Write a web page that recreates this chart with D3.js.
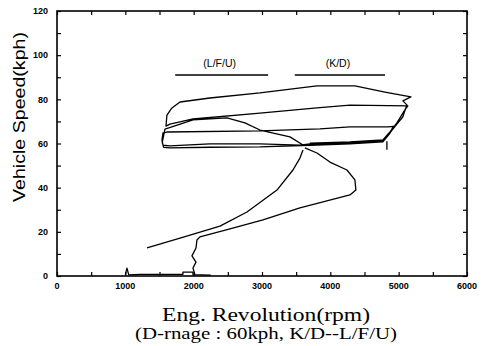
<!DOCTYPE html>
<html>
  <head>
    <meta charset="UTF-8" />
    <title>Vehicle Speed vs Eng. Revolution</title>
    <style>
      body {
        margin: 0;
        background: #ffffff;
      }
      .tick-label {
        font-family: "Liberation Sans", Arial, sans-serif;
        font-size: 9px;
        font-weight: bold;
        fill: #000;
      }
      .trace {
        fill: none;
        stroke: #000;
        stroke-width: 1.3;
        stroke-linejoin: round;
      }
    </style>
  </head>
  <body>
    <div id="chart"></div>
    <script src="https://d3js.org/d3.v7.min.js"></script>
    <script>
      // tick labels
      const xTickLabels = ["0", "1000", "2000", "3000", "4000", "5000", "6000"];
      const yTickLabels = ["0", "20", "40", "60", "80", "100", "120"];

      // main trace: [rpm, kph]
      const accelTrace = [
        [2019, 0.5], [1990, 3.6], [2034, 6.3], [1975, 9.1], [2034, 12.7],
        [2048, 16.3], [2092, 17.7], [2531, 21.3], [3014, 25.4], [3555, 30.8],
        [4287, 36.7], [4374, 38.9], [4360, 43.5], [4243, 48.0], [3994, 51.6],
        [3804, 55.7], [3628, 58.0]
      ];
      const loopTrace = [
        [3701, 60.2], [4287, 60.7], [4769, 61.6], [4872, 65.2], [4974, 69.3],
        [5091, 75.2], [5135, 77.0],
        [4287, 77.4], [3804, 76.1], [2970, 73.8], [1990, 71.1], [1653, 68.8], [1595, 67.9],
        [1609, 72.9], [1682, 76.1], [1800, 78.8], [2238, 80.6], [2970, 82.9],
        [3804, 86.1], [4360, 86.1], [4799, 83.3], [5179, 81.1], [5062, 79.3],
        [5120, 77.5], [5060, 72.0], [4974, 68.8], [4872, 64.8], [4769, 61.2],
        [4287, 60.3], [3701, 59.8], [3555, 59.3], [2970, 59.8], [2238, 59.8],
        [1653, 58.9], [1551, 59.3], [1536, 61.6], [1551, 64.8],
        [1609, 65.2], [2970, 65.7], [3848, 66.6], [4287, 67.5], [4843, 67.5], [4920, 67.8],
        [4872, 64.6], [4769, 60.8],
        [4287, 59.8], [3700, 59.2], [2970, 58.5], [2238, 58.3], [1653, 58.0],
        [1560, 58.3], [1540, 60.5], [1580, 66.5],
        [1990, 70.7], [2487, 71.6], [2750, 69.3], [2970, 66.1], [3409, 63.0], [3600, 59.3]
      ];
      const decelTrace = [
        [3600, 57.1], [3555, 53.4], [3453, 48.0], [3219, 38.9], [2780, 29.0],
        [2385, 22.6], [1800, 17.2], [1317, 12.7]
      ];
      const spikeTrace = [[4828, 61.0], [4828, 57.2]];
      const idleTrace = [
        [1000, 0.6], [1024, 3.6], [1050, 0.5], [1214, 0.7], [1843, 0.8],
        [1843, 1.8], [1990, 1.8], [1990, 0.6], [2250, 0.4]
      ];

      // range bars
      const rangeNames = ["(L/F/U)", "(K/D)"];
      const rangeStart = [1730, 3480];
      const rangeEnd = [3090, 4800];
      const rangeKph = 91;

      const width = 488;
      const height = 346;
      const svg = d3
        .select("#chart")
        .append("svg")
        .attr("width", width)
        .attr("height", height);

      const x = d3.scaleLinear().domain([0, 6000]).range([57, 467]);
      const y = d3.scaleLinear().domain([0, 120]).range([276, 11]);

      const line = d3
        .line()
        .x((d) => x(d[0]))
        .y((d) => y(d[1]));

      // inward ticks on all four sides
      const xMinor = d3.range(0, 6001, 500);
      const yMinor = d3.range(0, 121, 10);
      const tickAxis = (axis) =>
        axis.tickSizeInner(-4).tickSizeOuter(0).tickFormat("");

      svg.append("g")
        .attr("transform", `translate(0,${y(0)})`)
        .call(tickAxis(d3.axisBottom(x).tickValues(xMinor)));
      svg.append("g")
        .attr("transform", `translate(0,${y(120)})`)
        .call(tickAxis(d3.axisTop(x).tickValues(xMinor)));
      svg.append("g")
        .attr("transform", `translate(${x(0)},0)`)
        .call(tickAxis(d3.axisLeft(y).tickValues(yMinor)));
      svg.append("g")
        .attr("transform", `translate(${x(6000)},0)`)
        .call(tickAxis(d3.axisRight(y).tickValues(yMinor)));
      svg.selectAll(".domain").remove();
      svg.selectAll(".tick line").attr("stroke", "#000").attr("stroke-width", 1.2);

      // frame
      svg.append("rect")
        .attr("x", x(0))
        .attr("y", y(120))
        .attr("width", x(6000) - x(0))
        .attr("height", y(0) - y(120))
        .attr("fill", "none")
        .attr("stroke", "#000")
        .attr("stroke-width", 1.6);

      // tick labels
      svg.selectAll(".xl")
        .data(xTickLabels)
        .enter()
        .append("text")
        .attr("class", "tick-label")
        .attr("x", (d) => x(+d))
        .attr("y", 289)
        .attr("text-anchor", "middle")
        .text((d) => d);
      svg.selectAll(".yl")
        .data(yTickLabels)
        .enter()
        .append("text")
        .attr("class", "tick-label")
        .attr("x", 48)
        .attr("y", (d) => y(+d) + 3.3)
        .attr("text-anchor", "end")
        .text((d) => d);

      // traces
      [idleTrace, accelTrace, loopTrace, decelTrace, spikeTrace].forEach((t) => {
        svg.append("path").attr("class", "trace").attr("d", line(t));
      });

      // range bars with labels
      rangeNames.forEach((name, i) => {
        svg.append("line")
          .attr("x1", x(rangeStart[i]))
          .attr("x2", x(rangeEnd[i]))
          .attr("y1", y(rangeKph))
          .attr("y2", y(rangeKph))
          .attr("stroke", "#000")
          .attr("stroke-width", 1.4);
        svg.append("text")
          .attr("x", x((rangeStart[i] + rangeEnd[i]) / 2) - 2)
          .attr("y", 67)
          .attr("text-anchor", "middle")
          .attr("font-family", "'Liberation Sans', Arial, sans-serif")
          .attr("font-size", 10.5)
          .text(name);
      });

      // axis titles
      svg.append("text")
        .attr("transform", "translate(24.5,117) rotate(-90)")
        .attr("text-anchor", "middle")
        .attr("font-family", "'Liberation Sans', Arial, sans-serif")
        .attr("font-size", 17)
        .attr("textLength", 170)
        .attr("lengthAdjust", "spacingAndGlyphs")
        .text("Vehicle Speed(kph)");

      svg.append("text")
        .attr("x", 266)
        .attr("y", 321)
        .attr("text-anchor", "middle")
        .attr("font-family", "'Liberation Serif', 'Times New Roman', serif")
        .attr("font-size", 19)
        .attr("textLength", 208)
        .attr("lengthAdjust", "spacingAndGlyphs")
        .text("Eng. Revolution(rpm)");

      svg.append("text")
        .attr("x", 266)
        .attr("y", 339)
        .attr("text-anchor", "middle")
        .attr("font-family", "'Liberation Serif', 'Times New Roman', serif")
        .attr("font-size", 17)
        .attr("textLength", 262)
        .attr("lengthAdjust", "spacingAndGlyphs")
        .text("(D-rnage : 60kph, K/D--L/F/U)");
    </script>
  </body>
</html>
